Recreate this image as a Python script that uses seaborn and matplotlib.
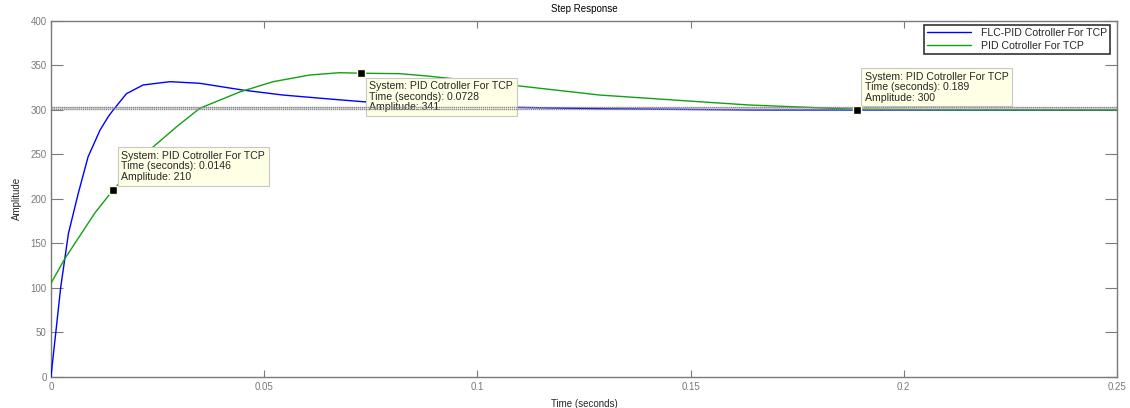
import numpy as np
import pandas as pd
import matplotlib
matplotlib.use("Agg")
import matplotlib.pyplot as plt
import seaborn as sns

# Step response samples (time in seconds, amplitude)
flc_t = [0.0, 0.0023, 0.0041, 0.0064, 0.0087, 0.0115, 0.0134, 0.0146, 0.0177, 0.0216,
         0.0279, 0.0349, 0.0451, 0.0544, 0.0662, 0.0732, 0.09, 0.11, 0.13, 0.165, 0.2, 0.25]
flc_amp = [0, 101, 161, 206, 247, 277, 292, 299.7, 318, 327.8,
           331.5, 329.7, 322, 316.5, 311.7, 309, 305, 302.6, 301, 299.7, 299.7, 299.5]

pid_t = [0.0, 0.0033, 0.0103, 0.0146, 0.0195, 0.024, 0.0295, 0.0349, 0.0443, 0.0521,
         0.0607, 0.0677, 0.0728, 0.0818, 0.088, 0.1, 0.11, 0.1287, 0.152, 0.1638,
         0.1795, 0.189, 0.21, 0.25]
pid_amp = [105, 133, 184, 210, 236, 258.4, 281, 301.6, 320, 331.5,
           339, 341.6, 341, 340.5, 338, 332, 326.6, 316.5, 309, 305.3,
           302.3, 300.5, 299.8, 299.5]

series_names = ["FLC-PID Cotroller For TCP", "PID Cotroller For TCP"]
series_colors = ["#0000FF", "#12A012"]

# Data tips placed on the PID response
tip_t = [0.0146, 0.0728, 0.189]
tip_amp = [210, 341, 300]

# Steady-state reference levels
steady_levels = [300.4, 303.4]

x_ticks = [0, 0.05, 0.1, 0.15, 0.2, 0.25]
x_ticklabels = ["0", "0.05", "0.1", "0.15", "0.2", "0.25"]
y_ticks = list(range(0, 401, 50))

sns.set_style("white")
plt.rcParams["font.family"] = ["Liberation Sans", "DejaVu Sans"]

df = pd.concat([
    pd.DataFrame({"t": flc_t, "amp": flc_amp, "system": series_names[0]}),
    pd.DataFrame({"t": pid_t, "amp": pid_amp, "system": series_names[1]}),
], ignore_index=True)

fig = plt.figure(figsize=(11.3, 4.08), dpi=100)
ax = fig.add_axes([0.0451, 0.0767, 0.9434, 0.8725])

sns.lineplot(data=df, x="t", y="amp", hue="system", hue_order=series_names,
             palette=series_colors, linewidth=1.0, ax=ax, sort=True,
             estimator=None, zorder=3)

# steady-state band
ax.axhspan(steady_levels[0], steady_levels[1], color="#dcdcdc", linewidth=0, zorder=2)
for lvl in steady_levels:
    ax.axhline(lvl, color="#8a8a8a", linewidth=1.0, linestyle=(0, (1, 0.5)), zorder=8)

ax.set_xlim(0, 0.25)
ax.set_ylim(0, 400)
ax.set_xticks(x_ticks)
ax.set_xticklabels(x_ticklabels)
ax.set_yticks(y_ticks)

grey = "#7a7a7a"
for sp in ax.spines.values():
    sp.set_visible(True)
    sp.set_color(grey)
    sp.set_linewidth(1.0)
ax.tick_params(axis="both", which="both", direction="in", colors=grey,
               labelcolor=grey, labelsize=7, width=0.8)
ax.tick_params(axis="x", length=5, top=True, bottom=True, pad=4)
ax.tick_params(axis="y", length=8.5, left=True, right=True, pad=3)

ax.set_title("Step Response", fontsize=7, pad=6, color="black")
ax.set_xlabel("Time (seconds)", fontsize=7, labelpad=5)
ax.set_ylabel("Amplitude", fontsize=7, labelpad=6)

# data-tip markers
ax.plot(tip_t, tip_amp, linestyle="none", marker="s", markersize=5.5,
        markerfacecolor="black", markeredgecolor="#FFFFE1", markeredgewidth=1.0,
        zorder=10)

box = dict(boxstyle="square,pad=0.35", facecolor="#FFFFE6", edgecolor="#C8C8C8",
           linewidth=0.8)
offsets = [((8, 8), "bottom"), ((8, -8), "top"), ((8, 7), "bottom")]
for (tt, aa), (off, va) in zip(zip(tip_t, tip_amp), offsets):
    ax.annotate(f"System: PID Cotroller For TCP\nTime (seconds): {tt}\nAmplitude: {aa}",
                xy=(tt, aa), xytext=off, textcoords="offset pixels",
                ha="left", va=va, fontsize=7.6, linespacing=1.05,
                bbox=box, zorder=6)

leg = ax.legend(loc="upper right", bbox_to_anchor=(0.9934, 0.988), fontsize=7.6,
                handlelength=4.2, frameon=True, fancybox=False, borderaxespad=0,
                borderpad=0.3, labelspacing=0.25, handletextpad=0.9)
leg.get_frame().set_edgecolor("black")
leg.get_frame().set_linewidth(1.2)
leg.set_zorder(12)

fig.savefig("out.png", dpi=100)
